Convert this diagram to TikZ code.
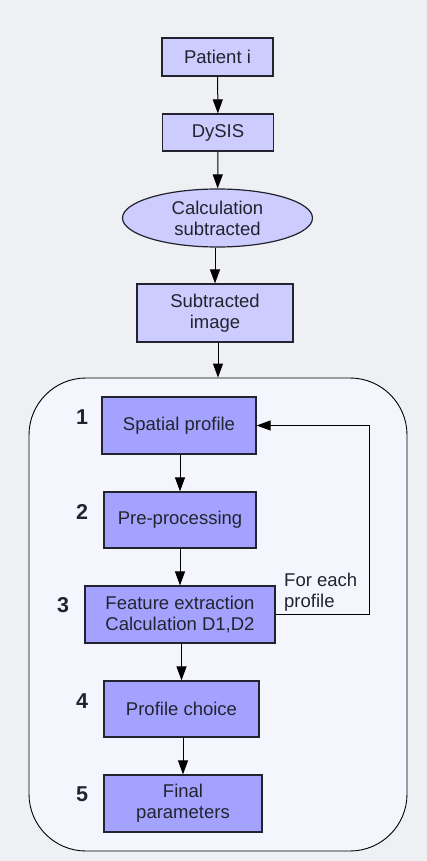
\documentclass[tikz,border=0pt]{standalone}
\usepackage{fontspec}
\setmainfont{Liberation Sans}
\usepackage{tikz}
\usetikzlibrary{arrows.meta}
\usetikzlibrary{shapes.geometric}
\definecolor{pagegray}{HTML}{EFF0F4}
\definecolor{panelfill}{HTML}{F5F5FE}
\definecolor{lightbox}{HTML}{CCCCFF}
\definecolor{darkbox}{HTML}{A3A3FF}
\definecolor{inkgray}{HTML}{23232F}

\begin{document}
\begin{tikzpicture}[x=1pt,y=-1pt]
\tikzset{>={Triangle[width=10pt,length=14pt]}}
\tikzstyle{txt} =[font=\fontsize{18.5}{21}\selectfont,text=inkgray,align=center]
\tikzstyle{topbox} =[txt,rectangle,draw=inkgray,line width=1.2pt,fill=lightbox,inner sep=0pt]
\tikzstyle{stepbox} =[txt,rectangle,draw=inkgray,line width=1.2pt,fill=darkbox,inner sep=0pt]
\tikzstyle{num} =[font=\fontsize{21.5}{24}\selectfont\bfseries,text=inkgray,inner sep=0pt]
\tikzstyle{flow} =[->,line width=1pt,black]

\useasboundingbox (0,0) rectangle (427,861);
\fill[pagegray] (0,0) rectangle (427,861);

% outer panel
\node[draw=black,line width=0.9pt,fill=panelfill,rounded corners=57pt,minimum width=378pt,minimum height=473pt,inner sep=0pt](panel) at (218,614.5){};

% top chain
\node[topbox,minimum width=111pt,minimum height=38pt](patient) at (217.5,57){Patient i};
\node[topbox,minimum width=111pt,minimum height=37pt](dysis) at (218,132.5){DySIS};
\node[txt,ellipse,draw=inkgray,line width=1.2pt,fill=lightbox,inner sep=0pt,minimum width=190pt,minimum height=58pt](calc) at (217.5,218){Calculation\\subtracted};
\node[topbox,minimum width=156pt,minimum height=58pt](sub) at (215,313){Subtracted\\image};

% steps
\node[stepbox,minimum width=154pt,minimum height=57pt](spatial) at (179,425.5){Spatial profile};
\node[stepbox,minimum width=152pt,minimum height=56pt](prep) at (180,520){Pre-processing};
\node[stepbox,minimum width=190pt,minimum height=57pt](feat) at (180,614.5){Feature extraction\\Calculation D1,D2};
\node[stepbox,minimum width=155pt,minimum height=56pt](choice) at (181.5,709){Profile choice};
\node[stepbox,minimum width=158pt,minimum height=57pt](final) at (183,803.5){Final\\parameters};

\node[num](n1) at (82,417){1};
\node[num](n2) at (82,512){2};
\node[num](n3) at (63,605){3};
\node[num](n4) at (82,701){4};
\node[num](n5) at (82,794){5};

\node[txt,align=left,anchor=west,inner sep=0pt](each) at (284,592.5){For each\\profile};

\draw[flow] (patient) -- (dysis);
\draw[flow] (dysis) -- (calc);
\draw[flow] (calc.south -| sub.north) -- (sub.north);
\draw[flow] (sub.south -| panel.north) -- (panel.north);
\draw[flow] (spatial.south -| prep.north) -- (prep.north);
\draw[flow] (prep) -- (feat);
\draw[flow] (feat.south -| choice.north) -- (choice.north);
\draw[flow] (choice.south -| final.north) -- (final.north);
\draw[flow] (feat.east) -- ++(94,0) |- (spatial.east);

\end{tikzpicture}
\end{document}
